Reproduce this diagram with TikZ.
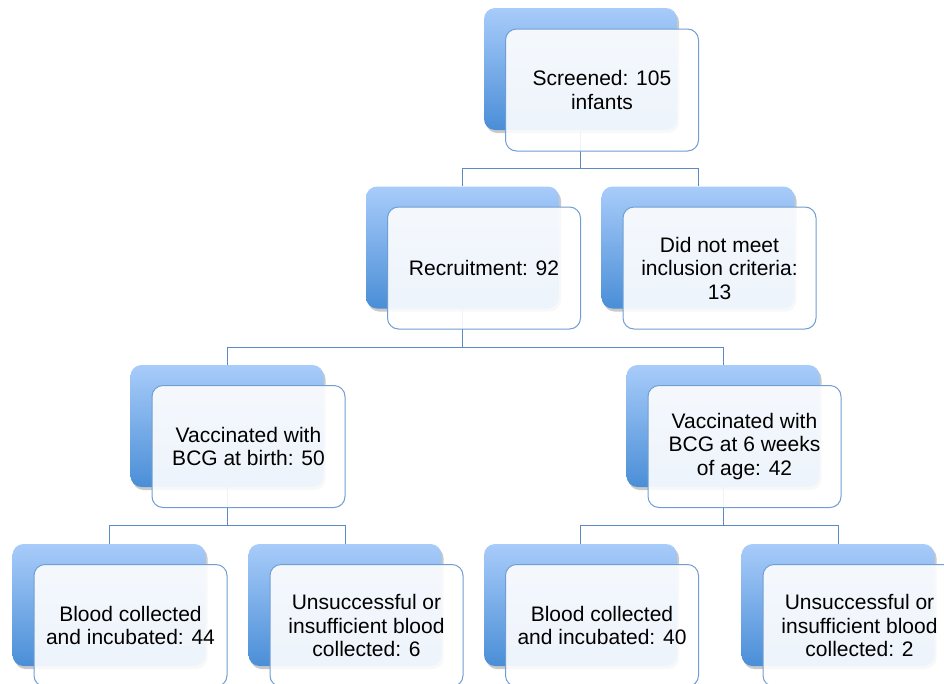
\documentclass[tikz,border=0pt]{standalone}
\usepackage{fontspec}
\setmainfont{Liberation Sans}
\usetikzlibrary{shadows}
\definecolor{bluetop}{RGB}{168,204,250}
\definecolor{bluebot}{RGB}{74,142,215}
\definecolor{edgeblue}{RGB}{112,158,210}
\definecolor{linkblue}{RGB}{92,138,194}
\begin{document}
\begin{tikzpicture}[x=1pt,y=-1pt,
  back/.style={rectangle, rounded corners=11pt, minimum width=193pt, minimum height=122pt,
    inner sep=0pt, top color=bluetop, bottom color=bluebot, draw=none,
    drop shadow={shadow xshift=2pt, shadow yshift=-3pt, opacity=0.3, fill=black!70}},
  front/.style={rectangle, rounded corners=11pt, minimum width=193pt, minimum height=122pt,
    inner sep=2pt, fill=white, fill opacity=0.9, text opacity=1, draw=edgeblue,
    line width=1pt, align=center, font=\fontsize{21}{23.5}\selectfont},
  link/.style={draw=linkblue, line width=1pt}]
\useasboundingbox (0,0) rectangle (944,683);
\clip (0,0) rectangle (944,683);
% back boxes
\node[back] (b0) at (580.5,69) {};
\node[back] (b1) at (462.5,247.5) {};
\node[back] (b2) at (698,247.5) {};
\node[back] (b3) at (227,426) {};
\node[back] (b4) at (723,426) {};
\node[back] (b5) at (109,605) {};
\node[back] (b6) at (345,605) {};
\node[back] (b7) at (580.5,605) {};
\node[back] (b8) at (838,605) {};
% connectors
\draw[link] (b0.south) -- ([yshift=-38.5pt]b0.south) -| (b1.north);
\draw[link] ([yshift=-38.5pt]b0.south) -| (b2.north);
\draw[link] (b1.south) -- ([yshift=-38.5pt]b1.south) -| (b3.north);
\draw[link] ([yshift=-38.5pt]b1.south) -| (b4.north);
\draw[link] (b3.south) -- ([yshift=-38.5pt]b3.south) -| (b5.north);
\draw[link] ([yshift=-38.5pt]b3.south) -| (b6.north);
\draw[link] (b4.south) -- ([yshift=-38.5pt]b4.south) -| (b7.north);
\draw[link] ([yshift=-38.5pt]b4.south) -| (b8.north);
% front boxes
\node[front] (f0) at (602,90) {Screened: 105\\infants};
\node[front] (f1) at (484,268) {Recruitment: 92};
\node[front] (f2) at (719.5,268) {Did not meet\\inclusion criteria:\\13};
\node[front] (f3) at (248.5,446.5) {Vaccinated with\\BCG at birth: 50};
\node[front] (f4) at (744.5,446.5) {Vaccinated with\\BCG at 6 weeks\\of age: 42};
\node[front] (f5) at (130.5,625.5) {Blood collected\\and incubated: 44};
\node[front] (f6) at (366.5,625.5) {Unsuccessful or\\insufficient blood\\collected: 6};
\node[front] (f7) at (602,625.5) {Blood collected\\and incubated: 40};
\node[front] (f8) at (859.5,625.5) {Unsuccessful or\\insufficient blood\\collected: 2};
\end{tikzpicture}
\end{document}
